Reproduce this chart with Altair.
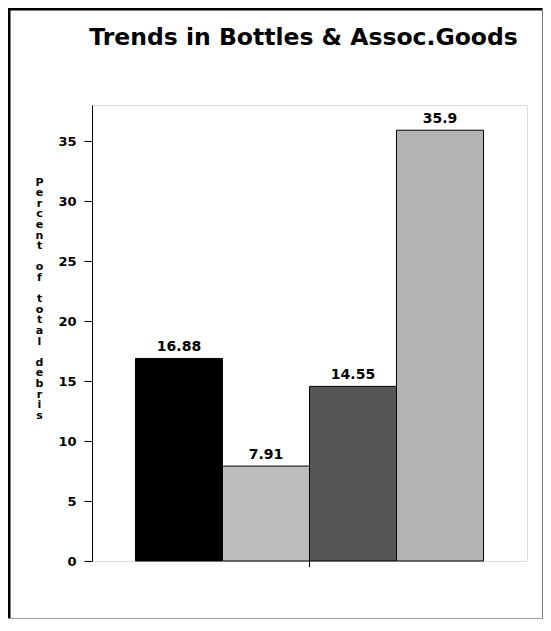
import altair as alt
import pandas as pd

categories = ["1", "2", "3", "4"]
values = [16.88, 7.91, 14.55, 35.9]
labels = ["16.88", "7.91", "14.55", "35.9"]
fills = ["#000000", "#bdbdbd", "#565656", "#b3b3b3"]
y_ticks = [0, 5, 10, 15, 20, 25, 30, 35]
title_text = "Trends in Bottles & Assoc.Goods"
y_title = "Percent of total debris"

FONT = "DejaVu Sans"

df = pd.DataFrame({"cat": categories, "value": values, "label": labels})
mid = pd.DataFrame({"cat": [categories[1]]})
one = pd.DataFrame({"k": [0]})

# one letter per line; a zero-width space keeps the blank lines between words
letters = [c if c != " " else "\u200b" for c in y_title]

x_enc = alt.X("cat:N", sort=categories,
              scale=alt.Scale(domain=categories, paddingInner=0, paddingOuter=0.5),
              axis=None)
y_enc = alt.Y("value:Q",
              scale=alt.Scale(domain=[0, 38], nice=False, zero=True),
              axis=alt.Axis(values=y_ticks, tickSize=8, tickColor="black", tickWidth=1,
                            domainColor="black", grid=False,
                            labelFont=FONT, labelFontSize=13, labelFontWeight="bold",
                            labelColor="black", labelPadding=8,
                            title=letters, titleAngle=0, titleAlign="center",
                            titleBaseline="top", titleX=-53, titleY=71,
                            titleFont=FONT, titleFontSize=11, titleFontWeight="bold",
                            titleLineHeight=10.6, titleColor="black"))

bars = alt.Chart(df).mark_bar(stroke="black", strokeWidth=1).encode(
    x=x_enc,
    y=y_enc,
    color=alt.Color("cat:N", scale=alt.Scale(domain=categories, range=fills), legend=None),
)

text = alt.Chart(df).mark_text(dy=-7, baseline="alphabetic", font=FONT, fontSize=14,
                               fontWeight="bold", color="black").encode(
    x=alt.X("cat:N", sort=categories),
    y=alt.Y("value:Q"),
    text="label:N",
)

center_tick = alt.Chart(mid).mark_rule(color="black", strokeWidth=1).encode(
    x=alt.X("cat:N", sort=categories, bandPosition=1),
    y=alt.value(456),
    y2=alt.value(462),
)

frame_left = alt.Chart(one).mark_rule(color="black", strokeWidth=3).encode(
    x=alt.value(-83), y=alt.value(-97), y2=alt.value(517))
frame_top = alt.Chart(one).mark_rule(color="black", strokeWidth=3).encode(
    x=alt.value(-84), x2=alt.value(451), y=alt.value(-96))
frame_right = alt.Chart(one).mark_rule(color="#777777", strokeWidth=1).encode(
    x=alt.value(450.5), y=alt.value(-97), y2=alt.value(517))
frame_bottom = alt.Chart(one).mark_rule(color="#999999", strokeWidth=1).encode(
    x=alt.value(-84), x2=alt.value(451), y=alt.value(513.5))

chart = alt.layer(
    bars, text, center_tick, frame_left, frame_top, frame_right, frame_bottom
).properties(
    width=435,
    height=456,
    autosize=alt.AutoSizeParams(type="none"),
    padding={"left": 84, "top": 97, "right": 16, "bottom": 58},
    title=alt.Title(title_text, font=FONT, fontSize=23.5, fontWeight="bold",
                    anchor="middle", baseline="alphabetic", offset=58, dx=-6, dy=120,
                    color="black"),
).configure_view(
    stroke="black", strokeWidth=1
).configure(background="white")

chart.save("out.html", embed_options={"renderer": "svg", "actions": False})
